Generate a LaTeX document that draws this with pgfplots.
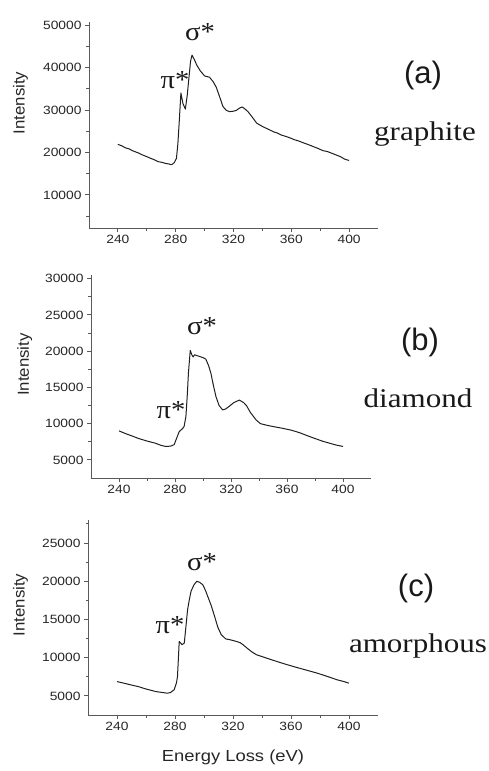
\documentclass[border=0pt]{standalone}
\usepackage{pgfplots}
\pgfplotsset{compat=1.18}
\usepackage{fontspec}
\setmainfont{Liberation Serif}
\newfontfamily\arialfont{Liberation Sans}
\pgfplotsset{
  eels/.style={
    scale only axis, axis lines=left,
    axis line style={-, black!65, line width=0.8pt},
    xmin=220, xmax=420, xtick={240,280,...,400}, minor xtick={260,300,340,380},
    scaled y ticks=false, scaled x ticks=false,
    tick align=outside, major tick length=4pt, minor tick length=2.5pt,
    every tick/.style={black!65, line width=0.8pt},
    /pgf/number format/1000 sep={},
    every tick label/.append style={font=\arialfont\fontsize{12}{12}\selectfont, text=black!85},
    xticklabel={\scalebox{1.15}[1]{\pgfmathprintnumber[assume math mode=true]{\tick}}},
    yticklabel={\scalebox{1.15}[1]{\pgfmathprintnumber[assume math mode=true,fixed,precision=0]{\tick}}},
    ylabel={\scalebox{1.05}[1]{Intensity}},
    ylabel style={font=\arialfont\fontsize{16}{16}\selectfont, text=black!85, anchor=center},
    clip=false,
  },
  curve/.style={black!88, line width=1pt, line join=round},
}
\begin{document}
\begin{tikzpicture}
\useasboundingbox (0,0) rectangle (489pt,-771pt);
% ---------------- (a) graphite
\begin{axis}[eels, at={(89pt,-228pt)}, anchor=south west, width=289pt, height=206pt,
  ymin=2200, ymax=50700, ytick={10000,20000,...,50000}, minor ytick={5000,15000,...,45000},
  ylabel style={at={(axis description cs:-0.237,0.607)}}]
\addplot[curve] coordinates {
(240,21900) (243,21500) (245,21100) (248,20800) (250,20400) (254,19900) (257,19400) (260,19000) (262,18700) (265,18300) (268,17800) (270,17700) (273,17400)
(275,17300) (277,17100) (278,17300) (279,17600) (280.5,18600) (281.5,22000) (282.5,27500) (283.6,34000)
(285,31500) (286.7,30200) (288,33500) (289,37000) (290.3,41500) (291.3,42900)
(293,41800) (294.5,40600) (297,39200) (300,38000) (303.4,37700) (306,36600)
(308,35400) (310.5,33000) (312.7,30800) (315,29900) (317.3,29600) (320,29700)
(322,29900) (324,30400) (326,30700) (328,30200) (330,29600) (333,28300) (336,26900)
(340,26100) (345,25300) (348,24800) (350,24600) (353,24100) (356.8,23700) (360,23300) (362,23000) (365,22700) (368,22300)
(372,21800) (375,21400) (378,21000) (382,20400) (385,20200) (388,19800) (391,19400) (394,19000) (397,18400) (400,18100)};
\end{axis}
% ---------------- (b) diamond
\begin{axis}[eels, at={(91pt,-478pt)}, anchor=south west, width=280pt, height=203pt,
  ymin=2500, ymax=30500, ytick={5000,10000,...,30000}, minor ytick={7500,12500,...,27500},
  ylabel style={at={(axis description cs:-0.237,0.559)}}]
\addplot[curve] coordinates {
(240,9000) (245,8600) (250,8250) (254,7950) (260,7600) (263,7450) (266,7300) (270,7000)
(273.4,6850) (277,6900) (279.4,7100) (281,7900) (283,8900) (285.3,9300) (286.5,9600)
(287.8,11000) (288.8,14000) (289.6,17000) (290.9,20100) (292,19500) (293,19200)
(294,19500) (295.4,19400) (297,19300) (298.5,19200) (300,19100) (302,18900)
(304,18000) (305.7,16900) (307.5,15200) (309.3,13700) (311.5,12500) (314,11900)
(316,12000) (318.8,12400) (322,12900) (326,13250) (329,12900) (331,12500)
(334,11500) (338,10500) (341,10000) (345,9800) (350,9600) (357,9350) (363,9100)
(369,8750) (375,8300) (380,7950) (385,7600) (390.4,7300) (395,7050) (400,6850)};
\end{axis}
% ---------------- (c) amorphous
\begin{axis}[eels, at={(88pt,-715pt)}, anchor=south west, width=290pt, height=195pt,
  ymin=2500, ymax=28000, ytick={5000,10000,...,25000}, minor ytick={7500,12500,...,27500},
  ylabel style={at={(axis description cs:-0.233,0.564)}},
  xlabel={\scalebox{1.15}[1]{Energy Loss (eV)}},
  xlabel style={font=\arialfont\fontsize{16}{16}\selectfont, text=black!85,
    at={(axis description cs:0.5,-0.215)}, anchor=center}]
\addplot[curve] coordinates {
(240,6870) (245,6650) (250,6420) (255,6200) (260,5900) (266.7,5570) (271,5450)
(274.8,5350) (277,5450) (279.4,5800) (281,6700) (281.7,7500) (282.5,10500)
(282.9,12100) (284,11900) (284.8,11700) (286.4,11900) (287.5,14000) (288.7,16300)
(290,17700) (291.1,18700) (293,19500) (295,19980) (297,19850) (299.1,19550)
(301,18800) (302.6,18000) (305,16800) (307.3,15400) (309.5,14000) (311.9,13000)
(315,12450) (318,12340) (322.4,12120) (325,11950) (327,11680) (330,11200)
(333,10750) (336.3,10370) (343,9950) (350.2,9500) (357,9100) (364.1,8710)
(371,8350) (378,7980) (385,7550) (391.9,7100) (396,6900) (400,6660)};
\end{axis}
% ---------------- annotations
\tikzset{pk/.style={font=\fontsize{26}{26}\selectfont, text=black!90, inner sep=0pt},
         lab/.style={font=\arialfont\fontsize{31}{31}\selectfont, text=black!90, inner sep=0pt},
         mat/.style={font=\fontsize{27}{27}\selectfont, text=black!90, inner sep=0pt}}
\node[pk] at (200pt,-32pt) {\scalebox{1.1}[1]{σ*}};
\node[pk] at (175pt,-80pt) {\scalebox{1.1}[1]{π*}};
\node[lab] at (423pt,-75pt) {(a)};
\node[mat] at (425pt,-134pt) {\scalebox{1.15}[1]{graphite}};
\node[pk] at (202pt,-326pt) {\scalebox{1.1}[1]{σ*}};
\node[pk] at (171pt,-410pt) {\scalebox{1.1}[1]{π*}};
\node[lab] at (420pt,-342pt) {(b)};
\node[mat] at (418pt,-398pt) {\scalebox{1.15}[1]{diamond}};
\node[pk] at (202pt,-562pt) {\scalebox{1.1}[1]{σ*}};
\node[pk] at (170pt,-625pt) {\scalebox{1.1}[1]{π*}};
\node[lab] at (416pt,-588pt) {(c)};
\node[mat] at (418pt,-646pt) {\scalebox{1.15}[1]{amorphous}};
\end{tikzpicture}
\end{document}
